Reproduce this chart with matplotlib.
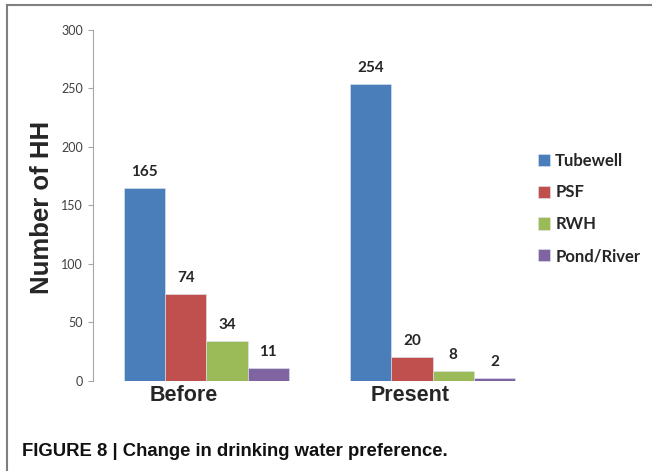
import matplotlib
matplotlib.use("Agg")
import matplotlib.pyplot as plt
from matplotlib.lines import Line2D
from matplotlib.transforms import ScaledTranslation
import numpy as np

# Data
periods = ["Before", "Present"]
sources = ["Tubewell", "PSF", "RWH", "Pond/River"]
tubewell = [165, 254]
psf = [74, 20]
rwh = [34, 8]
pond_river = [11, 2]
colors = ["#4A7EBB", "#C0504D", "#9BBB59", "#8064A2"]
yticks = [0, 50, 100, 150, 200, 250, 300]

series = [tubewell, psf, rwh, pond_river]

W, H = 652, 471
fig = plt.figure(figsize=(W / 100, H / 100), dpi=100)
fig.patch.set_facecolor("white")

# axes placed in pixel units
left_px, right_px = 93.3, 545.8
bottom_px, top_px = 380.6, 30.0
ax = fig.add_axes([left_px / W, (H - bottom_px) / H,
                   (right_px - left_px) / W, (bottom_px - top_px) / H])

x = np.arange(len(periods))
bw = 0.182
offsets = (np.arange(len(sources)) - 1.5) * bw
bars = []
for vals, off, col, name in zip(series, offsets, colors, sources):
    b = ax.bar(x + off, vals, width=bw, color=col, label=name,
               edgecolor="#dfe6f0", linewidth=0.4)
    bars.append(b)
    for xi, v in zip(x + off, vals):
        ax.text(xi, v + 7.5, str(v), ha="center", va="bottom",
                fontsize=11, fontweight="bold", color="#262626",
                family="Lato")

ax.set_xlim(-0.5, 1.5)
ax.set_ylim(0, 300)
ax.set_yticks(yticks)
ax.set_yticklabels([str(t) for t in yticks], fontsize=9, color="#404040",
                   family="Lato")
ax.tick_params(axis="y", direction="out", length=3.5, width=0.8,
               color="#a6a6a6", pad=4)
ax.set_xticks(x)
ax.set_xticklabels(periods, fontsize=15.5, fontweight="bold",
                   color="#262626", family="Liberation Sans")
ax.tick_params(axis="x", length=0, pad=3)
for lab in ax.get_xticklabels():
    lab.set_transform(lab.get_transform() +
                      ScaledTranslation(-0.23, 0, fig.dpi_scale_trans))

for s in ["top", "right", "bottom"]:
    ax.spines[s].set_visible(False)
ax.spines["left"].set_color("#a6a6a6")
ax.spines["left"].set_linewidth(0.8)

fig.text(42 / W, 1 - 207 / H, "Number of HH", rotation=90,
         ha="center", va="center", fontsize=18.5, fontweight="bold",
         color="#262626", family="Liberation Sans")

leg = fig.legend(handles=[b for b in bars], labels=sources,
                 loc="upper left", bbox_to_anchor=(531 / W, 1 - 146 / H),
                 frameon=False, handlelength=0.75, handleheight=0.75,
                 handletextpad=0.3, labelspacing=0.95, borderaxespad=0,
                 prop={"family": "Lato", "weight": "bold", "size": 12})
for t in leg.get_texts():
    t.set_color("#262626")

# panel frame (left and top edges)
fig.add_artist(Line2D([7 / W, 7 / W], [0, 1 - 5 / H], transform=fig.transFigure,
                      color="#7f7f7f", linewidth=1.5))
fig.add_artist(Line2D([7 / W, 1], [1 - 5 / H, 1 - 5 / H], transform=fig.transFigure,
                      color="#7f7f7f", linewidth=1.5))

fig.text(22.5 / W, 1 - 455.5 / H, "FIGURE 8 | Change in drinking water preference.",
         ha="left", va="baseline", fontsize=13.3, fontweight="bold",
         color="#111111", family="Liberation Sans")

fig.savefig("out.png", dpi=100, facecolor="white")
